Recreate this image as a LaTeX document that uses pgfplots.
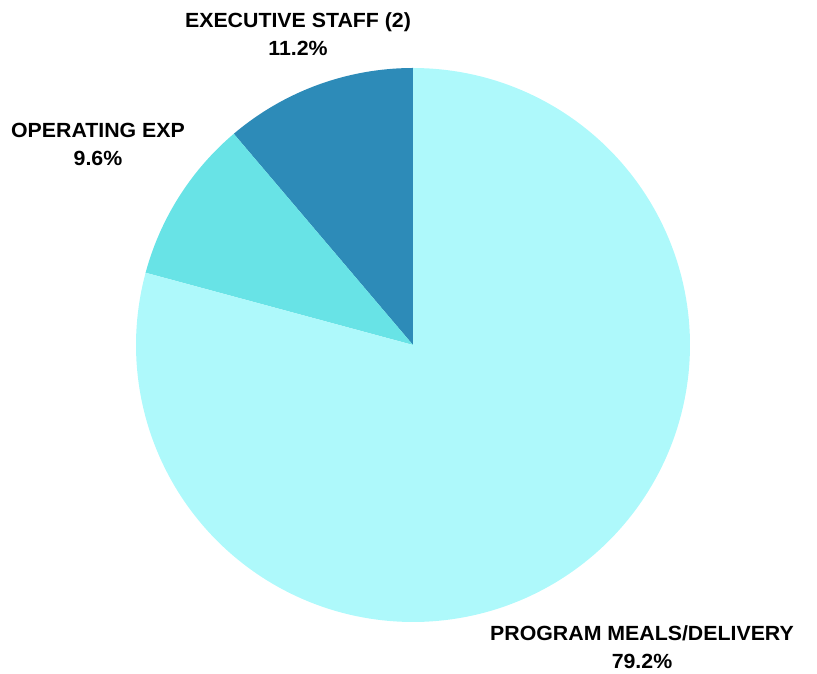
\documentclass[border=0pt]{standalone}
\usepackage{pgfplots}
\pgfplotsset{compat=1.18}
\usepackage{fontspec}
\setmainfont[FakeStretch=1.04]{Liberation Sans}
\definecolor{cexec}{HTML}{2D8BB8}
\definecolor{cop}{HTML}{68E3E6}
\definecolor{cprog}{HTML}{AEF9FB}
% shares (percent): executive 11.2, operating 9.6, program 79.2
\pgfmathsetmacro{\pexec}{11.2}
\pgfmathsetmacro{\pop}{9.6}
\pgfmathsetmacro{\pprog}{79.2}
\pgfmathsetmacro{\aA}{90}
\pgfmathsetmacro{\aB}{\aA+3.6*\pexec}
\pgfmathsetmacro{\aC}{\aB+3.6*\pop}
\pgfmathsetmacro{\aD}{\aC+3.6*\pprog}
\begin{document}
\begin{tikzpicture}
\begin{axis}[width=817pt,height=674pt,scale only axis,
  xmin=0,xmax=817,ymin=0,ymax=674,hide axis,clip=false]
\addplot[draw=none] coordinates {(0,0) (817,674)};
\addplot[fill=cexec,draw=none,domain=\aA:\aB,samples=60,variable=\t]
  ({413+277*cos(\t)},{329+277*sin(\t)}) -- (axis cs:413,329) -- cycle;
\addplot[fill=cop,draw=none,domain=\aB:\aC,samples=60,variable=\t]
  ({413+277*cos(\t)},{329+277*sin(\t)}) -- (axis cs:413,329) -- cycle;
\addplot[fill=cprog,draw=none,domain=\aC:\aD,samples=200,variable=\t]
  ({413+277*cos(\t)},{329+277*sin(\t)}) -- (axis cs:413,329) -- cycle;
\node[align=center,inner sep=0pt,font=\bfseries\fontsize{20.5}{28}\selectfont] at (axis cs:298,640) {EXECUTIVE STAFF (2)\\11.2\%};
\node[align=center,inner sep=0pt,font=\bfseries\fontsize{20.5}{28}\selectfont] at (axis cs:98,530) {OPERATING EXP\\9.6\%};
\node[align=center,inner sep=0pt,font=\bfseries\fontsize{20.5}{28}\selectfont] at (axis cs:642,27) {PROGRAM MEALS/DELIVERY\\79.2\%};
\end{axis}
\end{tikzpicture}
\end{document}
